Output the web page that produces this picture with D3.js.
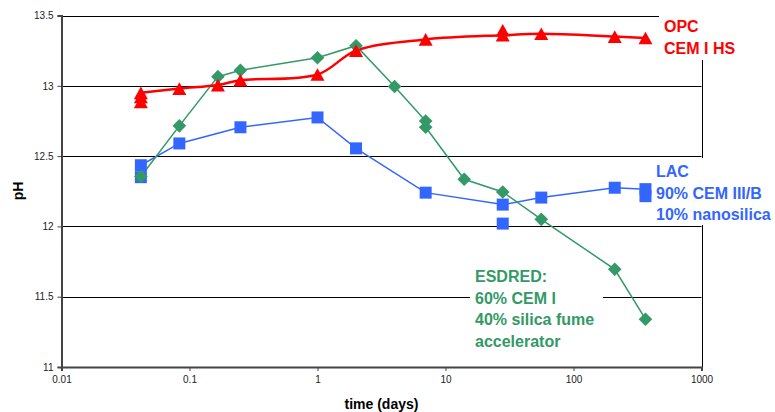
<!DOCTYPE html>
<html>
<head>
<meta charset="utf-8">
<script src="https://cdn.jsdelivr.net/npm/d3@7"></script>
<style>
  body { margin: 0; background: #fff; }
  text { font-family: "Liberation Sans", Arial, sans-serif; }
</style>
</head>
<body>
<div id="chart"></div>
<script>
const width = 775;
const height = 412;

// axis ticks
const xTicks = [0.01, 0.1, 1, 10, 100, 1000];
const yTicks = [11, 11.5, 12, 12.5, 13, 13.5];

// OPC CEM I HS (red, smoothed line)
const opcDays = [0.0417, 0.0833, 0.1667, 0.25, 1, 2, 7, 28, 56, 210, 365];
const opcPH   = [12.95, 12.98, 13.005, 13.04, 13.08, 13.25, 13.33, 13.36, 13.37, 13.35, 13.34];
const opcExtraDays = [0.0417, 0.0417, 28];
const opcExtraPH   = [12.92, 12.885, 13.395];

// LAC 90% CEM III/B 10% nanosilica (blue)
const lacDays = [0.0417, 0.0833, 0.25, 1, 2, 7, 28, 56, 210, 365];
const lacPH   = [12.435, 12.59, 12.705, 12.775, 12.555, 12.24, 12.155, 12.205, 12.275, 12.265];
const lacExtraDays = [0.0417, 28, 365];
const lacExtraPH   = [12.35, 12.02, 12.215];

// ESDRED 60% CEM I 40% silica fume accelerator (green)
const esdDays = [0.0417, 0.0833, 0.1667, 0.25, 1, 2, 4, 7, 7, 14, 28, 56, 210, 365];
const esdPH   = [12.355, 12.715, 13.065, 13.11, 13.2, 13.285, 12.995, 12.75, 12.705, 12.335, 12.245, 12.05, 11.695, 11.34];

const zip = (days, ph) => days.map((d, i) => ({ day: d, ph: ph[i] }));

const svg = d3.select('#chart')
  .append('svg')
  .attr('width', width)
  .attr('height', height);

const x = d3.scaleLog()
  .domain([0.01, 1000])
  .range([61.5, 701.5]);

const y = d3.scaleLinear()
  .domain([11, 13.5])
  .range([367, 15.5]);

// gridlines
svg.append('g')
  .selectAll('line')
  .data(yTicks.filter((t) => t > 11))
  .join('line')
  .attr('x1', x(0.01))
  .attr('x2', x(1000))
  .attr('y1', (d) => Math.round(y(d)) + 0.5)
  .attr('y2', (d) => Math.round(y(d)) + 0.5)
  .attr('stroke', '#000')
  .attr('stroke-width', 1);

// right frame
svg.append('line')
  .attr('x1', Math.round(x(1000)) + 0.5)
  .attr('x2', Math.round(x(1000)) + 0.5)
  .attr('y1', y(13.5))
  .attr('y2', y(11))
  .attr('stroke', '#000');

// axes
const xAxis = svg.append('g')
  .attr('transform', `translate(0,${y(11)})`)
  .call(d3.axisBottom(x).tickValues(xTicks).tickFormat(d3.format('~g')).tickSize(4).tickPadding(5));
xAxis.select('.domain').attr('stroke', '#444').attr('stroke-width', 2);
xAxis.selectAll('.tick line').attr('stroke', '#444');
xAxis.selectAll('text').attr('font-size', 10).attr('fill', '#222')
  .style('font-family', '"Liberation Sans", Arial, sans-serif');

const yAxis = svg.append('g')
  .attr('transform', `translate(${x(0.01)},0)`)
  .call(d3.axisLeft(y).tickValues(yTicks).tickFormat(d3.format('~g')).tickSize(4).tickPadding(4));
yAxis.select('.domain').attr('stroke', '#444').attr('stroke-width', 2);
yAxis.selectAll('.tick line').attr('stroke', '#444');
yAxis.selectAll('text').attr('font-size', 10).attr('fill', '#222')
  .style('font-family', '"Liberation Sans", Arial, sans-serif');

// axis titles
svg.append('text')
  .attr('x', (x(0.01) + x(1000)) / 2)
  .attr('y', 409)
  .attr('text-anchor', 'middle')
  .attr('font-size', 14)
  .attr('font-weight', 'bold')
  .text('time (days)');

svg.append('text')
  .attr('transform', 'translate(23,191) rotate(-90)')
  .attr('text-anchor', 'middle')
  .attr('font-size', 14)
  .attr('font-weight', 'bold')
  .text('pH');

// series labels with white boxes
const labels = [
  { lines: ['OPC', 'CEM I HS'], color: '#FF0000', x: 664, y: 32, box: [659, 14, 116, 46] },
  { lines: ['LAC', '90% CEM III/B', '10% nanosilica'], color: '#3366FF', x: 656, y: 177, box: [653, 158, 122, 67] },
  { lines: ['ESDRED:', '60% CEM I', '40% silica fume', 'accelerator'], color: '#339966', x: 475, y: 282, box: [470, 262, 133, 88] }
];

labels.forEach((lab) => {
  svg.append('rect')
    .attr('x', lab.box[0]).attr('y', lab.box[1])
    .attr('width', lab.box[2]).attr('height', lab.box[3])
    .attr('fill', '#fff');
  svg.append('g')
    .selectAll('text')
    .data(lab.lines)
    .join('text')
    .attr('x', lab.x)
    .attr('y', (d, i) => lab.y + i * 21.5)
    .attr('fill', lab.color)
    .attr('font-size', 16)
    .attr('font-weight', 'bold')
    .text((d) => d);
});

// lines
svg.append('path')
  .datum(zip(lacDays, lacPH))
  .attr('fill', 'none')
  .attr('stroke', '#3366FF')
  .attr('stroke-width', 1.5)
  .attr('d', d3.line().x((d) => x(d.day)).y((d) => y(d.ph)));

svg.append('path')
  .datum(zip(esdDays, esdPH))
  .attr('fill', 'none')
  .attr('stroke', '#339966')
  .attr('stroke-width', 1.5)
  .attr('d', d3.line().x((d) => x(d.day)).y((d) => y(d.ph)));

svg.append('path')
  .datum(zip(opcDays, opcPH))
  .attr('fill', 'none')
  .attr('stroke', '#FF0000')
  .attr('stroke-width', 2.5)
  .attr('d', d3.line().x((d) => x(d.day)).y((d) => y(d.ph)).curve(d3.curveCatmullRom.alpha(0.5)));

// markers
const square = 'M-6,-6H6V6H-6Z';
const diamond = 'M0,-6.8L6.8,0L0,6.8L-6.8,0Z';
const triangle = 'M0,-6.3L7,6.3L-7,6.3Z';

const drawMarkers = (data, shape, color) => {
  svg.append('g')
    .selectAll('path')
    .data(data)
    .join('path')
    .attr('transform', (d) => `translate(${x(d.day)},${y(d.ph)})`)
    .attr('d', shape)
    .attr('fill', color);
};

drawMarkers(zip(lacDays, lacPH).concat(zip(lacExtraDays, lacExtraPH)), square, '#3366FF');
drawMarkers(zip(esdDays, esdPH), diamond, '#339966');
drawMarkers(zip(opcDays, opcPH).concat(zip(opcExtraDays, opcExtraPH)), triangle, '#FF0000');
</script>
</body>
</html>
